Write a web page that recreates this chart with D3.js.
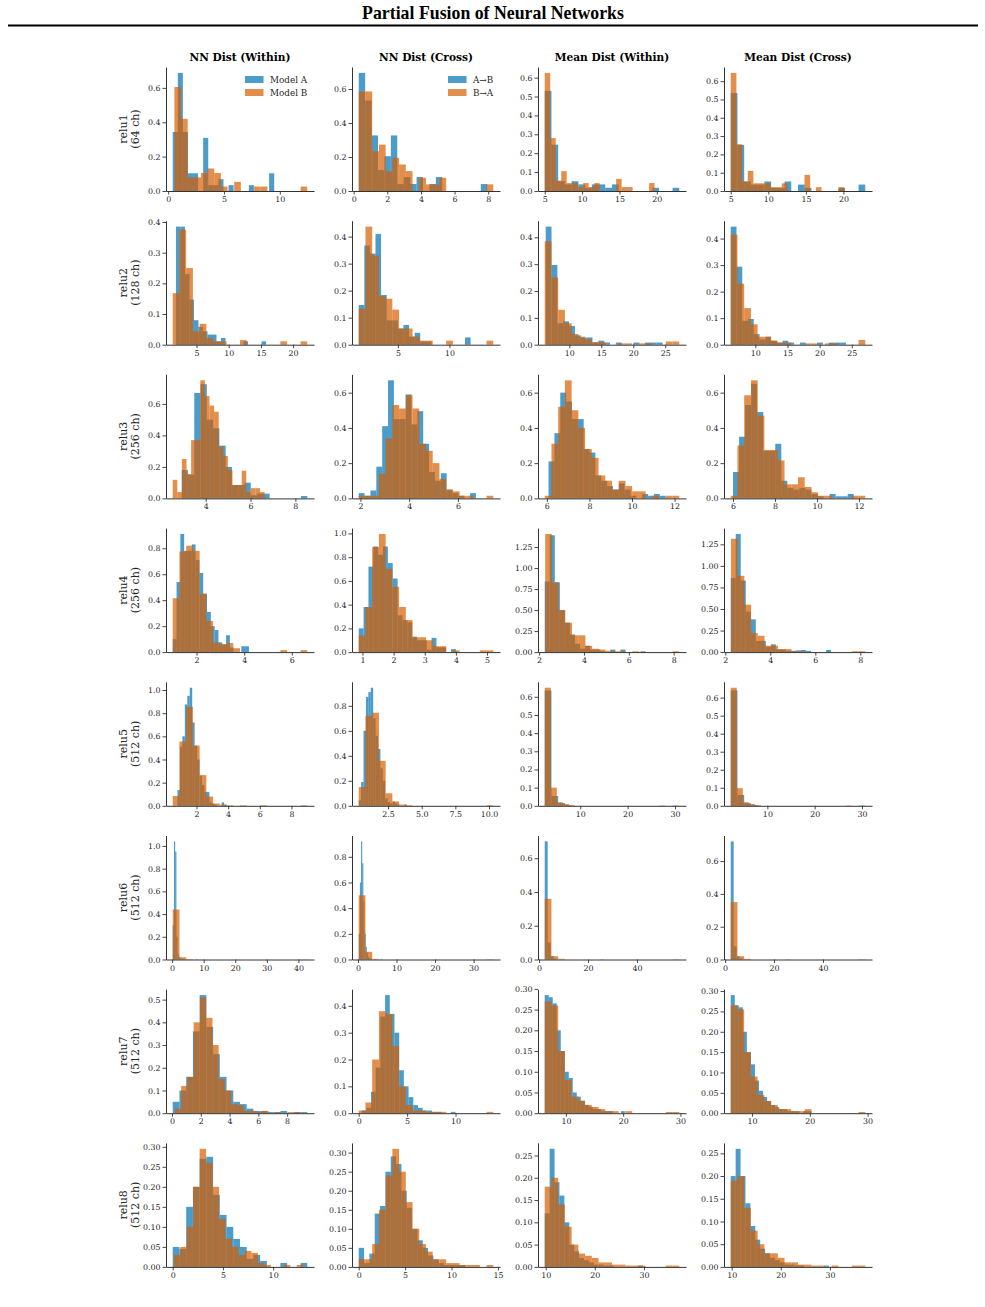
<!DOCTYPE html>
<html>
<head>
<meta charset="utf-8">
<script src="https://cdn.jsdelivr.net/npm/d3@7"></script>
<style>
  body { margin: 0; background: #fff; }
</style>
</head>
<body>
<div id="chart"></div>
<script>
// ---- categories ----
var layers = ["relu1", "relu2", "relu3", "relu4", "relu5", "relu6", "relu7", "relu8"];
var channels = [64, 128, 256, 256, 512, 512, 512, 512];
var metrics = ["NN Dist (Within)", "NN Dist (Cross)", "Mean Dist (Within)", "Mean Dist (Cross)"];
var legendWithin = ["Model A", "Model B"];
var legendCross = ["A\u2192B", "B\u2192A"];

// ---- histogram densities, 20 bins each, order: NN within, NN cross, mean within, mean cross ----
// range arrays are the [min, max] of the values each histogram was binned over
var relu1_rangeA = [[0.41, 9.5], [0.3, 7.94], [5.0, 23.0], [5.0, 22.9]];
var relu1_rangeB = [[0.56, 12.46], [0.3, 8.3], [5.0, 19.7], [5.0, 20.1]];
var relu1_A = [
  [0.343,0.687,0.343,0.103,0.103,0,0.309,0.034,0.034,0.069,0,0.034,0,0,0,0.034,0,0,0,0.103],
  [0.695,0.532,0.327,0.123,0.205,0.327,0.041,0.082,0.041,0.082,0,0.041,0.082,0,0,0,0,0,0,0.041],
  [0.53,0.245,0.052,0.035,0.052,0.035,0.017,0.035,0.035,0.017,0.035,0,0,0,0,0,0.017,0,0,0.017],
  [0.535,0.252,0.052,0.035,0.035,0.052,0.017,0.017,0.052,0,0.035,0.017,0,0,0,0,0.017,0,0,0.035]];
var relu1_B = [
  [0.605,0.42,0.079,0.079,0.105,0.131,0.105,0.026,0,0.053,0,0,0.026,0.026,0,0,0,0,0,0.026],
  [0.586,0.586,0.234,0.273,0.117,0.195,0.156,0.117,0,0.078,0.039,0.039,0.078,0,0,0,0,0,0,0.039],
  [0.625,0.28,0.055,0.105,0.042,0.042,0.021,0.042,0.021,0.042,0,0,0,0.064,0.021,0.021,0,0,0,0.042],
  [0.645,0.255,0.052,0.11,0.042,0.042,0.042,0.021,0.021,0.042,0,0,0,0.088,0,0.021,0,0,0,0.021]];

var relu2_rangeA = [[1.8, 15.8], [1.2, 12.05], [6.3, 24.6], [6.17, 24.1]];
var relu2_rangeB = [[1.3, 22.2], [1.2, 14.25], [6.15, 27.2], [6.17, 27.1]];
var relu2_A = [
  [0.385,0.385,0.23,0.147,0.08,0.058,0.044,0.033,0.033,0.011,0.022,0,0,0,0,0.011,0,0,0,0.011],
  [0.147,0.367,0.337,0.41,0.184,0.09,0.09,0.06,0.073,0.03,0.044,0.012,0.012,0,0,0,0,0,0,0.027],
  [0.44,0.297,0.08,0.087,0.07,0.035,0.027,0.027,0.008,0.015,0.008,0,0.008,0,0,0.008,0,0.008,0.008,0.008],
  [0.445,0.294,0.09,0.097,0.04,0.02,0.03,0.015,0.008,0.015,0.008,0,0.008,0,0,0.008,0,0.008,0.008,0.008]];
var relu2_B = [
  [0.168,0.375,0.25,0.044,0.068,0.022,0.011,0.011,0,0,0.015,0,0,0,0,0,0.011,0,0,0.011],
  [0.133,0.437,0.33,0.18,0.17,0.13,0.06,0.06,0.03,0.015,0.015,0,0,0.015,0,0,0,0,0,0.015],
  [0.385,0.25,0.13,0.08,0.04,0.03,0.02,0.01,0.01,0,0,0.005,0.005,0,0.005,0.005,0,0,0.012,0.012],
  [0.415,0.23,0.138,0.077,0.03,0.03,0.015,0.008,0.008,0,0,0.005,0.005,0,0.005,0.005,0,0,0,0.018]];

var relu3_rangeA = [[2.93, 8.53], [1.93, 6.74], [6.08, 11.58], [6.0, 11.75]];
var relu3_rangeB = [[2.53, 6.63], [1.93, 7.45], [5.9, 12.22], [5.89, 12.3]];
var relu3_A = [
  [0.18,0.15,0.67,0.725,0.5,0.445,0.335,0.2,0.085,0.085,0.1,0.02,0.03,0.03,0,0,0,0,0,0.015],
  [0.03,0.015,0.045,0.18,0.41,0.67,0.45,0.45,0.59,0.42,0.495,0.31,0.15,0.1,0.143,0.05,0.03,0.015,0,0.03],
  [0.21,0.37,0.6,0.55,0.45,0.45,0.28,0.26,0.13,0.1,0.07,0.05,0.085,0.05,0.015,0,0.025,0.015,0.025,0.015],
  [0.15,0.35,0.53,0.65,0.49,0.27,0.27,0.31,0.1,0.06,0.05,0.06,0.05,0.025,0.012,0,0.025,0.012,0.012,0.025]];
var relu3_B = [
  [0.118,0.04,0.25,0.155,0.37,0.37,0.75,0.65,0.59,0.55,0.33,0.27,0.18,0.085,0.085,0.176,0.04,0.065,0.065,0.04],
  [0.015,0.015,0.015,0.14,0.34,0.53,0.51,0.585,0.51,0.31,0.27,0.2,0.11,0.05,0.04,0.015,0.015,0,0,0.015],
  [0.015,0.31,0.52,0.67,0.5,0.4,0.28,0.23,0.13,0.1,0.05,0.1,0.07,0.04,0.04,0,0.015,0,0.015,0.015],
  [0.015,0.3,0.585,0.67,0.47,0.275,0.275,0.215,0.08,0.08,0.12,0.065,0.035,0.015,0.015,0,0,0,0.015,0.015]];

var relu4_rangeA = [[1.0, 4.2], [0.88, 4.0], [2.25, 6.75], [2.24, 6.7]];
var relu4_rangeB = [[1.0, 6.65], [0.88, 5.2], [2.27, 8.25], [2.25, 8.22]];
var relu4_A = [
  [0.1,0.54,0.91,0.78,0.78,0.83,0.71,0.61,0.45,0.31,0.2,0.17,0.075,0.06,0.13,0.035,0,0,0.045,0.045],
  [0.2,0.38,0.72,0.89,0.82,0.89,0.75,0.62,0.31,0.27,0.25,0.13,0.1,0.1,0.02,0.12,0.04,0.04,0,0.025],
  [0.84,1.39,0.83,0.5,0.35,0.21,0.1,0.04,0.075,0.03,0.03,0.01,0,0.03,0,0.03,0,0,0,0.01],
  [0.86,1.37,0.83,0.47,0.38,0.13,0.13,0.06,0.09,0.03,0.03,0.015,0.015,0.02,0.025,0.015,0,0,0,0.025]];
var relu4_B = [
  [0.415,0.775,0.82,0.78,0.45,0.24,0.075,0.06,0.07,0.03,0,0,0,0,0,0,0.015,0,0,0.015],
  [0.14,0.38,0.885,0.995,0.7,0.55,0.38,0.27,0.125,0.125,0.1,0.05,0.05,0,0.015,0,0,0,0.015,0.015],
  [1.405,0.83,0.5,0.35,0.2,0.2,0.075,0.04,0.03,0.015,0.01,0.01,0,0.01,0,0,0,0,0,0.01],
  [1.315,0.885,0.55,0.22,0.19,0.075,0.075,0.035,0.035,0.01,0.01,0,0,0,0,0,0,0,0.01,0.01]];

var relu5_rangeA = [[0.8, 3.9], [0.32, 3.9], [2.5, 30.9], [2.25, 30.7]];
var relu5_rangeB = [[0.5, 9.0], [0.32, 10.32], [2.5, 28.0], [2.25, 27.8]];
var relu5_A = [
  [0.136,0.51,0.6,0.875,0.95,1.02,0.72,0.52,0.4,0.26,0.18,0.12,0.12,0.03,0.02,0.01,0,0,0.03,0.01],
  [0.045,0.19,0.6,0.87,0.91,0.945,0.7,0.56,0.455,0.3,0.2,0.06,0.03,0.02,0.035,0.02,0.01,0,0,0.01],
  [0.635,0.054,0.015,0.004,0,0,0,0,0,0,0,0,0,0,0,0,0,0,0,0.002],
  [0.64,0.06,0.015,0.005,0,0,0,0,0,0,0,0,0,0,0,0,0,0,0,0.002]];
var relu5_B = [
  [0.085,0.555,0.855,0.52,0.265,0.08,0.02,0.01,0.005,0,0.005,0,0,0.005,0,0,0,0,0,0.005],
  [0.15,0.72,0.745,0.36,0.1,0.035,0.01,0.005,0,0,0,0,0,0,0,0,0,0,0,0.005],
  [0.65,0.1,0.02,0.01,0.004,0,0,0,0,0,0,0,0,0,0,0,0,0,0,0.002],
  [0.655,0.098,0.02,0.01,0.004,0,0,0,0,0,0,0,0,0,0,0,0,0,0,0.002]];

var relu6_rangeA = [[0.2, 8.0], [0.2, 6.2], [2.3, 26.3], [2.3, 26.3]];
var relu6_rangeB = [[0.2, 42.8], [0.2, 35.1], [2.3, 57.3], [2.3, 57.3]];
var relu6_A = [
  [0.3,1.04,0.95,0.2,0.05,0.02,0.01,0.005,0.005,0.005,0,0,0,0,0,0,0,0,0,0.005],
  [0.2,0.6,0.92,0.75,0.45,0.2,0.1,0.05,0.02,0.01,0.01,0,0,0,0,0,0,0,0,0.005],
  [0.7,0.1,0.02,0.005,0,0,0,0,0,0,0,0,0,0,0,0,0,0,0,0.002],
  [0.72,0.08,0.02,0.005,0,0,0,0,0,0,0,0,0,0,0,0,0,0,0,0.002]];
var relu6_B = [
  [0.44,0.02,0.004,0,0,0,0,0,0,0,0,0,0,0,0,0,0,0,0,0.002],
  [0.5,0.06,0.005,0,0,0,0,0,0,0,0,0,0,0,0,0,0,0,0,0.002],
  [0.36,0.02,0.004,0,0,0,0,0,0,0,0,0,0,0,0,0,0,0,0,0.002],
  [0.35,0.02,0.004,0,0,0,0,0,0,0,0,0,0,0,0,0,0,0,0,0.002]];

var relu7_rangeA = [[0.05, 9.4], [0.3, 10.0], [6.3, 20.3], [6.3, 20.3]];
var relu7_rangeB = [[0.2, 8.9], [0.0, 13.9], [6.3, 29.8], [6.3, 29.6]];
var relu7_A = [
  [0.05,0.1,0.16,0.36,0.52,0.38,0.26,0.16,0.1,0.05,0.04,0.02,0.01,0.01,0.005,0.005,0.01,0,0.005,0.005],
  [0.01,0.02,0.08,0.17,0.36,0.44,0.37,0.3,0.16,0.1,0.06,0.03,0.02,0.01,0.01,0.005,0.005,0,0,0.005],
  [0.285,0.28,0.265,0.2,0.15,0.1,0.085,0.05,0.04,0.03,0.02,0.015,0.01,0.01,0.005,0.005,0.005,0,0,0.005],
  [0.29,0.265,0.26,0.2,0.15,0.12,0.08,0.055,0.04,0.03,0.02,0.015,0.01,0.01,0.005,0.005,0.005,0,0.005,0.005]];
var relu7_B = [
  [0.02,0.12,0.16,0.4,0.51,0.42,0.3,0.15,0.1,0.04,0.035,0.01,0.01,0.005,0.01,0,0.005,0,0.005,0.005],
  [0.01,0.04,0.2,0.38,0.37,0.25,0.1,0.03,0.01,0.01,0.005,0.005,0.005,0,0,0,0,0,0,0.005],
  [0.27,0.26,0.15,0.08,0.04,0.03,0.02,0.015,0.01,0.005,0.005,0,0.005,0,0,0,0,0,0.003,0.003],
  [0.265,0.255,0.15,0.09,0.045,0.03,0.02,0.01,0.01,0.005,0.005,0.01,0,0,0,0,0,0,0,0.003]];

var relu8_rangeA = [[0.0, 13.4], [0.0, 11.5], [9.8, 29.8], [9.8, 29.8]];
var relu8_rangeB = [[0.1, 13.0], [0.0, 14.5], [9.8, 37.2], [9.8, 37.2]];
var relu8_A = [
  [0.05,0.045,0.15,0.2,0.27,0.275,0.18,0.13,0.1,0.07,0.05,0.02,0.03,0.015,0,0,0.01,0,0,0.01],
  [0.05,0.01,0.035,0.14,0.16,0.25,0.29,0.27,0.2,0.155,0.1,0.07,0.05,0.03,0.02,0.01,0.005,0.005,0.005,0.005],
  [0.12,0.265,0.19,0.16,0.1,0.05,0.035,0.02,0.015,0.01,0.005,0.005,0.003,0.003,0,0,0,0,0,0.003],
  [0.2,0.26,0.2,0.14,0.09,0.06,0.04,0.03,0.02,0.015,0.01,0.005,0.005,0.003,0.003,0,0,0,0,0.003]];
var relu8_B = [
  [0.03,0.05,0.1,0.2,0.295,0.26,0.2,0.12,0.07,0.05,0.03,0.04,0.035,0.01,0.005,0,0,0.005,0,0.005],
  [0.02,0.02,0.06,0.15,0.24,0.31,0.25,0.17,0.1,0.06,0.04,0.02,0.02,0.01,0.01,0.005,0.005,0.005,0,0.005],
  [0.18,0.2,0.14,0.09,0.05,0.03,0.025,0.02,0.01,0.01,0.005,0.005,0.003,0.003,0.003,0,0,0,0.003,0.003],
  [0.19,0.2,0.13,0.08,0.05,0.03,0.03,0.02,0.01,0.01,0.005,0.005,0.003,0.003,0,0.003,0,0,0.003,0.003]];

// ---- tick labels ----
var yT2 = ["0.0", "0.2", "0.4", "0.6"];
var yT1 = ["0.0", "0.1", "0.2", "0.3", "0.4", "0.5", "0.6"];
var yT4 = ["0.0", "0.1", "0.2", "0.3", "0.4"];
var yT8 = ["0.0", "0.2", "0.4", "0.6", "0.8"];
var yT10 = ["0.0", "0.2", "0.4", "0.6", "0.8", "1.0"];
var yT125 = ["0.00", "0.25", "0.50", "0.75", "1.00", "1.25"];
var yT05 = ["0.0", "0.1", "0.2", "0.3", "0.4", "0.5"];
var yT30 = ["0.00", "0.05", "0.10", "0.15", "0.20", "0.25", "0.30"];
var yT25 = ["0.00", "0.05", "0.10", "0.15", "0.20", "0.25"];

var xTicks = [
  [["0","5","10"], ["0","2","4","6","8"], ["5","10","15","20"], ["5","10","15","20"]],
  [["5","10","15","20"], ["5","10"], ["10","15","20","25"], ["10","15","20","25"]],
  [["4","6","8"], ["2","4","6"], ["6","8","10","12"], ["6","8","10","12"]],
  [["2","4","6"], ["1","2","3","4","5"], ["2","4","6","8"], ["2","4","6","8"]],
  [["2","4","6","8"], ["2.5","5.0","7.5","10.0"], ["10","20","30"], ["10","20","30"]],
  [["0","10","20","30","40"], ["0","10","20","30"], ["0","20","40"], ["0","20","40"]],
  [["0","2","4","6","8"], ["0","5","10"], ["10","20","30"], ["10","20","30"]],
  [["0","5","10"], ["0","5","10","15"], ["10","20","30"], ["10","20","30"]]];
var yTicks = [
  [yT2, yT2, yT1, yT1],
  [yT4, yT4, yT4, yT4],
  [yT2, yT2, yT2, yT2],
  [yT8, yT10, yT125, yT125],
  [yT10, yT8, yT1, yT1],
  [yT10, yT8, yT2, yT2],
  [yT05, yT4, yT30, yT30],
  [yT30, yT30, yT25, yT25]];

var heightsA = [relu1_A, relu2_A, relu3_A, relu4_A, relu5_A, relu6_A, relu7_A, relu8_A];
var heightsB = [relu1_B, relu2_B, relu3_B, relu4_B, relu5_B, relu6_B, relu7_B, relu8_B];
var rangesA = [relu1_rangeA, relu2_rangeA, relu3_rangeA, relu4_rangeA, relu5_rangeA, relu6_rangeA, relu7_rangeA, relu8_rangeA];
var rangesB = [relu1_rangeB, relu2_rangeB, relu3_rangeB, relu4_rangeB, relu5_rangeB, relu6_rangeB, relu7_rangeB, relu8_rangeB];

// ---- layout ----
var width = 985, height = 1307;
var colX = [166, 352, 538, 724];
var plotW = 148, plotH = 124;
var rowTop = 67, rowStep = 153.7;
var colorA = "#0072B2", colorB = "#D55E00", alpha = 0.7;
var serif = "DejaVu Serif";

var svg = d3.select("#chart").append("svg").attr("width", width).attr("height", height);

svg.append("text")
    .attr("x", 493).attr("y", 19)
    .attr("text-anchor", "middle")
    .attr("font-family", "Liberation Serif")
    .attr("font-weight", "bold")
    .attr("font-size", 17.8)
    .text("Partial Fusion of Neural Networks");

svg.append("line")
    .attr("x1", 8).attr("x2", 978).attr("y1", 25.5).attr("y2", 25.5)
    .attr("stroke", "#000").attr("stroke-width", 2);

metrics.forEach(function(m, c) {
    svg.append("text")
        .attr("x", colX[c] + plotW / 2).attr("y", 61)
        .attr("text-anchor", "middle")
        .attr("font-family", serif).attr("font-weight", "bold").attr("font-size", 10.6)
        .text(m);
});

function drawPanel(r, c) {
    var x0 = colX[c], y0 = rowTop + r * rowStep;
    var rA = rangesA[r][c], rB = rangesB[r][c];
    var lo = Math.min(rA[0], rB[0]), hi = Math.max(rA[1], rB[1]);
    var pad = (hi - lo) * 0.05;
    var x = d3.scaleLinear().domain([lo - pad, hi + pad]).range([x0, x0 + plotW]);
    var hA = heightsA[r][c], hB = heightsB[r][c];
    var ymax = d3.max(hA.concat(hB)) * 1.05;
    var y = d3.scaleLinear().domain([0, ymax]).range([y0 + plotH, y0]);

    var g = svg.append("g");

    [[hA, rA, colorA], [hB, rB, colorB]].forEach(function(s) {
        var h = s[0], rg = s[1];
        var bw = (rg[1] - rg[0]) / h.length;
        var bins = h.map(function(v, i) {
            return {x0: rg[0] + i * bw, x1: rg[0] + (i + 1) * bw, v: v};
        }).filter(function(d) { return d.v > 0; });
        g.append("g").selectAll("rect").data(bins).join("rect")
            .attr("x", function(d) { return x(d.x0); })
            .attr("width", function(d) { return x(d.x1) - x(d.x0); })
            .attr("y", function(d) { return y(d.v); })
            .attr("height", function(d) { return y(0) - y(d.v); })
            .attr("fill", s[2])
            .attr("fill-opacity", alpha);
    });

    var yt = yTicks[r][c], xt = xTicks[r][c];
    var yAxis = d3.axisLeft(y)
        .tickValues(yt.map(Number))
        .tickFormat(function(d, i) { return yt[i]; })
        .tickSize(3.5).tickSizeOuter(0).tickPadding(2);
    var xAxis = d3.axisBottom(x)
        .tickValues(xt.map(Number))
        .tickFormat(function(d, i) { return xt[i]; })
        .tickSize(3.5).tickSizeOuter(0).tickPadding(2);

    var ya = g.append("g").attr("transform", "translate(" + x0 + ",0)").call(yAxis);
    var xa = g.append("g").attr("transform", "translate(0," + (y0 + plotH) + ")").call(xAxis);
    [ya, xa].forEach(function(a) {
        a.attr("font-family", serif).attr("font-size", 7.9);
        a.select(".domain").attr("stroke", "#333").attr("stroke-width", 1);
        a.selectAll(".tick line").attr("stroke", "#333").attr("stroke-width", 0.9);
        a.selectAll(".tick text").attr("fill", "#262626");
    });

    // legends on the first row
    if (r === 0 && c < 2) {
        var labels = c === 0 ? legendWithin : legendCross;
        var lx = c === 0 ? x0 + 79 : x0 + 96;
        labels.forEach(function(lbl, i) {
            var ly = y0 + 9 + i * 13;
            g.append("rect").attr("x", lx).attr("y", ly).attr("width", 18.5).attr("height", 7)
                .attr("fill", i === 0 ? colorA : colorB).attr("fill-opacity", alpha);
            g.append("text").attr("x", lx + 25).attr("y", ly + 6.5)
                .attr("font-family", serif).attr("font-size", 8.8).attr("fill", "#262626")
                .text(lbl);
        });
    }
}

layers.forEach(function(name, r) {
    var top = rowTop + r * rowStep;
    var t = svg.append("text")
        .attr("transform", "translate(127," + (top + plotH / 2) + ") rotate(-90)")
        .attr("text-anchor", "middle")
        .attr("font-family", serif).attr("font-size", 11).attr("fill", "#262626");
    t.append("tspan").attr("x", 0).attr("dy", 0).text(name);
    t.append("tspan").attr("x", 0).attr("dy", "1.05em").text("(" + channels[r] + " ch)");
    for (var c = 0; c < 4; c++) drawPanel(r, c);
});
</script>
</body>
</html>
